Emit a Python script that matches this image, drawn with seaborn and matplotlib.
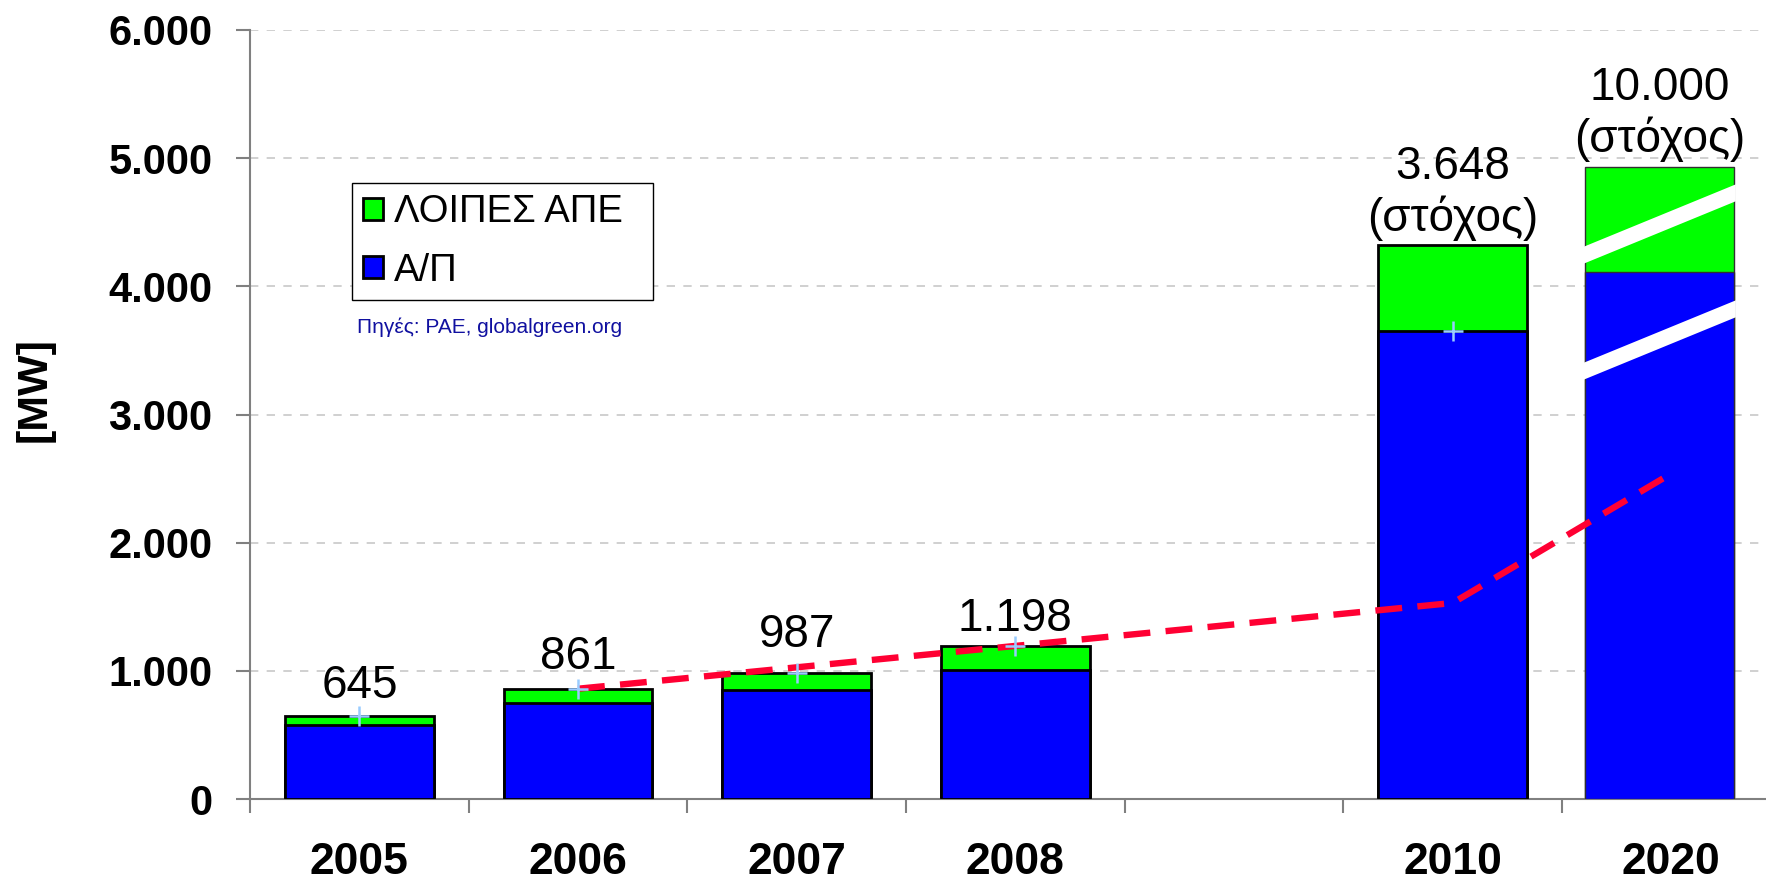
import numpy as np
import pandas as pd
import matplotlib
matplotlib.use("Agg")
import matplotlib.pyplot as plt
import seaborn as sns
from matplotlib.patches import Patch, Polygon
from matplotlib.ticker import FuncFormatter, MultipleLocator

sns.set_theme(style="white")
plt.rcParams['font.family'] = ['Liberation Sans', 'DejaVu Sans']
plt.rcParams['text.color'] = "black"
plt.rcParams['axes.labelcolor'] = "black"

# dati (MW) - lo slot vuoto corrisponde al 2009
slots = ["2005", "2006", "2007", "2008", "", "2010", "2020"]
years = ["2005", "2006", "2007", "2008", "2010", "2020"]
wind = [575, 746, 850, 1005, 3648, 4110]
total = [645, 861, 987, 1198, 4320, 4930]
bar_labels = ["645", "861", "987", "1.198", "3.648\n(στόχος)", "10.000\n(στόχος)"]
mark_years = ["2005", "2006", "2007", "2008", "2010"]
mark_values = [645, 861, 987, 1198, 3648]
trend_years = ["2006", "2007", "2008", "2010", "2020"]
trend_values = [861, 1028, 1195, 1530, 2540]
break_levels = [3580, 4485]   # barra 2020 "spezzata"

label_pad = [6, 7, 11, 3, 3, 4]
GREEN, BLUE = "#00FF00", "#0000FF"
shift20 = -0.055   # la barra 2020 e' leggermente spostata a sinistra

df = pd.DataFrame({"year": years, "wind": wind, "total": total})
pos = {y: i for i, y in enumerate(slots)}

fig = plt.figure(figsize=(17.66, 8.82), dpi=100)
ax = fig.add_axes([0.1416, 0.094, 0.8584, 0.872])

# barre impilate: prima il totale (verde), poi l'eolico (blu) sopra
sns.barplot(data=df, x="year", y="total", order=slots, color=GREEN, saturation=1,
            edgecolor="black", linewidth=2, width=0.68, errorbar=None, ax=ax, zorder=2)
sns.barplot(data=df, x="year", y="wind", order=slots, color=BLUE, saturation=1,
            edgecolor="black", linewidth=2, width=0.68, errorbar=None, ax=ax, zorder=3)

bar20 = None
for p in ax.patches:
    if abs(p.get_x() + p.get_width() / 2 - pos["2020"]) < 0.1:
        p.set_x(p.get_x() + shift20)
        p.set_linewidth(1)
        p.set_edgecolor("#303030")
        bar20 = p

# bande bianche di interruzione sulla barra 2020
x0, w = bar20.get_x(), bar20.get_width()
rise, th = 490, 132
for lvl in break_levels:
    ax.add_patch(Polygon([(x0 - 0.01, lvl - rise / 2 - th / 2), (x0 + w + 0.01, lvl + rise / 2 - th / 2),
                          (x0 + w + 0.01, lvl + rise / 2 + th / 2), (x0 - 0.01, lvl - rise / 2 + th / 2)],
                         closed=True, fc="white", ec="none", zorder=4))

# linea di tendenza tratteggiata
ax.plot([pos[y] for y in trend_years], trend_values, color="#FF0033", lw=4.6,
        dashes=(4.2, 2.4), zorder=5)
ax.plot([pos[y] for y in mark_years], mark_values, ls="none", marker="+", ms=14,
        mew=1.8, color="#99CCFF", zorder=6)

for i, y in enumerate(years):
    xc = pos[y] + (shift20 if y == "2020" else 0)
    ax.annotate(bar_labels[i], (xc, total[i]), xytext=(0, label_pad[i]),
                textcoords="offset points", ha="center", va="bottom",
                fontsize=33, linespacing=1.18, zorder=7)

ax.set_xlim(-0.5, 6.433)
ax.set_ylim(0, 6000)
ax.yaxis.set_major_locator(MultipleLocator(1000))
ax.yaxis.set_major_formatter(FuncFormatter(lambda v, _: f"{int(v):,}".replace(",", ".")))
ax.yaxis.grid(True, color="#C8C8C8", linestyle=(0, (5, 5)), lw=1.2)
ax.set_axisbelow(True)

for s in ["top", "right"]:
    ax.spines[s].set_visible(False)
for s in ["left", "bottom"]:
    ax.spines[s].set_color("#808080")
    ax.spines[s].set_linewidth(1.5)

ax.set_xticks(range(len(slots)))
ax.set_xticklabels(slots)
ax.set_xticks(np.arange(-0.5, 6.0, 1), minor=True)
ax.tick_params(axis="x", which="major", length=0, pad=31, labelsize=32, bottom=True,
               labelcolor="black")
ax.tick_params(axis="x", which="minor", length=10, width=1.5, color="#808080", bottom=True)
ax.tick_params(axis="y", length=10, width=1.5, color="#808080", left=True, labelsize=30,
               pad=17, labelcolor="black")
for t in ax.get_xticklabels() + ax.get_yticklabels():
    t.set_fontweight("bold")

ax.set_xlabel("")
ax.set_ylabel("[MW]", fontsize=31, fontweight="bold")
ax.yaxis.set_label_coords(-0.1286, 0.532)

handles = [Patch(fc=GREEN, ec="black", lw=2, label="ΛΟΙΠΕΣ ΑΠΕ"),
           Patch(fc=BLUE, ec="black", lw=2, label="Α/Π")]
leg = ax.legend(handles=handles, loc="upper left", bbox_to_anchor=(0.067, 0.648, 0.1986, 0.153),
                mode="expand", fontsize=27.5, frameon=True, fancybox=False, edgecolor="black",
                framealpha=1, handlelength=0.52, handleheight=0.52, handletextpad=0.3,
                borderpad=0.3, labelspacing=0.58, borderaxespad=0)
leg.get_frame().set_linewidth(1)

ax.text(0.0706, 0.614, "Πηγές: ΡΑΕ, globalgreen.org", transform=ax.transAxes,
        fontsize=15, color="#1010A0", va="center")

fig.savefig("out.png", dpi=100)
